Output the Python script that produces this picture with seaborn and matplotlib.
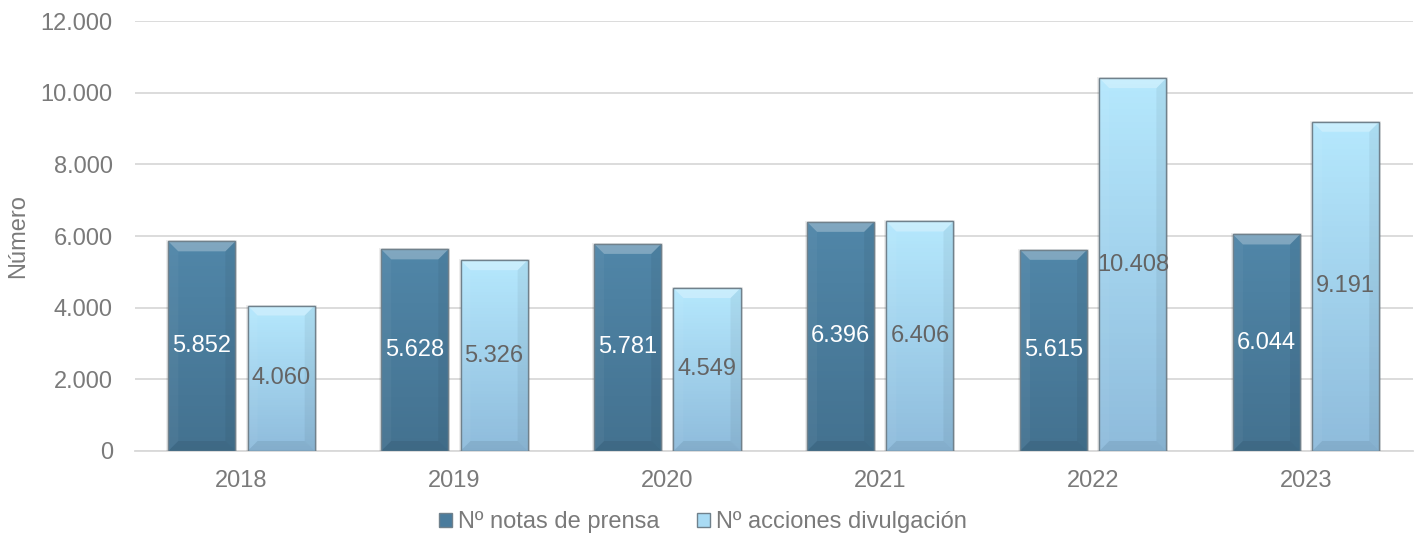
import numpy as np
import pandas as pd
import matplotlib
matplotlib.use("Agg")
import matplotlib.pyplot as plt
from matplotlib.patches import Polygon, Patch, Rectangle
from matplotlib.colors import to_rgb
import seaborn as sns

# --- data -------------------------------------------------------------
years = ["2018", "2019", "2020", "2021", "2022", "2023"]
notas_prensa = [5852, 5628, 5781, 6396, 5615, 6044]
acciones_divulgacion = [4060, 5326, 4549, 6406, 10408, 9191]
series_names = ["Nº notas de prensa", "Nº acciones divulgación"]
y_ticks = [0, 2000, 4000, 6000, 8000, 10000, 12000]

df = pd.DataFrame({
    "Año": years * 2,
    "Serie": [series_names[0]] * len(years) + [series_names[1]] * len(years),
    "Valor": notas_prensa + acciones_divulgacion,
})

# --- style ------------------------------------------------------------
sns.set_theme(style="white")
plt.rcParams["font.family"] = ["Liberation Sans", "DejaVu Sans"]

DARK = "#4a7c9d"
LIGHT = "#a9dbf4"
# top / bottom colours of the vertical gradient for each series
GRADS = [("#5086a8", "#43718f"), ("#b5e8fd", "#8ebbdb")]
EDGE = "#70818c"
TEXT = "#7a7a7a"
FS = 17

def fmt(v):
    return f"{v:,.0f}".replace(",", ".")

fig = plt.figure(figsize=(14.14, 5.41), dpi=100)
ax = fig.add_axes([0.0955, 0.1664, 0.9035, 0.7946])

sns.barplot(data=df, x="Año", y="Valor", hue="Serie", palette=[DARK, LIGHT],
            saturation=1, width=0.745, gap=0.155, legend=False, ax=ax, zorder=3,
            edgecolor=EDGE, linewidth=0.9)

ax.set_ylim(0, 12000)
ax.set_xlim(-0.5, len(years) - 0.5)
ax.set_yticks(y_ticks)
ax.set_yticklabels([fmt(t) for t in y_ticks])
ax.yaxis.grid(True, color="#d9d9d9", linewidth=1.3, zorder=0)
ax.set_axisbelow(True)
for s in ["top", "right", "left"]:
    ax.spines[s].set_visible(False)
ax.spines["bottom"].set_color("#d9d9d9")
ax.spines["bottom"].set_linewidth(1.3)
ax.tick_params(axis="y", length=0, pad=16, labelsize=FS, labelcolor=TEXT)
ax.tick_params(axis="x", length=0, pad=14, labelsize=FS, labelcolor=TEXT)
ax.set_xlabel("")
ax.set_ylabel("Número", fontsize=FS, color=TEXT)
ax.yaxis.set_label_coords(-0.083, 0.5)

# bevelled, gradient-filled faces drawn over each seaborn bar
px_y = 12000 / 430.0
px_x = 1 / 214.0
for cont, (top_c, bot_c) in zip(ax.containers, GRADS):
    t, b = np.array(to_rgb(top_c)), np.array(to_rgb(bot_c))
    for patch in cont.patches:
        x, y0 = patch.get_x(), patch.get_y()
        w, h = patch.get_width(), patch.get_height()

        # soft shadow
        ax.add_patch(Rectangle((x - 2 * px_x, y0), w + 4 * px_x, h + px_y,
                               facecolor="black", alpha=0.07, lw=0, zorder=2.9))

        # vertical gradient (lighter on top)
        n = 60
        edges = np.linspace(y0 + h, y0, n + 1)
        for i in range(n):
            f = (i + 0.5) / n
            c = t * (1 - f) + b * f
            ax.add_patch(Rectangle((x, edges[i + 1]), w, edges[i] - edges[i + 1],
                                   facecolor=c, lw=0, zorder=3.1))

        dx, dy = min(10 * px_x, w / 3), min(10 * px_y, h / 3)
        top = Polygon([(x, h), (x + w, h), (x + w - dx, h - dy), (x + dx, h - dy)],
                      closed=True, facecolor="white", alpha=0.28, lw=0, zorder=3.2)
        left = Polygon([(x, h), (x + dx, h - dy), (x + dx, dy), (x, 0)],
                       closed=True, facecolor="white", alpha=0.04, lw=0, zorder=3.2)
        right = Polygon([(x + w, h), (x + w - dx, h - dy), (x + w - dx, dy), (x + w, 0)],
                        closed=True, facecolor="black", alpha=0.05, lw=0, zorder=3.2)
        bottom = Polygon([(x, 0), (x + w, 0), (x + w - dx, dy), (x + dx, dy)],
                         closed=True, facecolor="black", alpha=0.07, lw=0, zorder=3.2)
        for p in (top, left, right, bottom):
            ax.add_patch(p)
        ax.add_patch(Rectangle((x, y0), w, h, fill=False, edgecolor=EDGE,
                               lw=1.0, zorder=3.3))

ax.set_ylim(0, 12000)
ax.set_xlim(-0.5, len(years) - 0.5)

# value labels in the middle of each bar
label_colors = ["white", "#646464"]
for cont, col in zip(ax.containers, label_colors):
    vals = cont.datavalues
    texts = ax.bar_label(cont, labels=[fmt(v) for v in vals], label_type="center",
                         fontsize=FS, color=col)
    for tx in texts:
        tx.set_zorder(6)

handles = [Patch(facecolor=DARK, edgecolor=EDGE),
           Patch(facecolor=LIGHT, edgecolor=EDGE)]
fig.legend(handles, series_names, loc="center", bbox_to_anchor=(0.497, 0.035),
           ncol=2, frameon=False, fontsize=FS, labelcolor=TEXT,
           handlelength=0.55, handleheight=0.55, handletextpad=0.25,
           columnspacing=1.6)

fig.savefig("out.png", dpi=100)
